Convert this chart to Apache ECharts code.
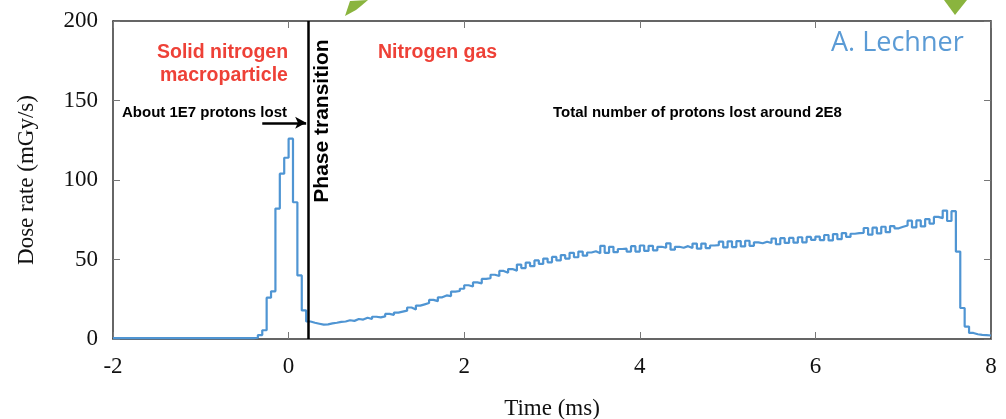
<!DOCTYPE html>
<html><head><meta charset="utf-8">
<script src="https://cdn.jsdelivr.net/npm/echarts@6/dist/echarts.min.js"></script>
<style>html,body{margin:0;padding:0;background:#fff}#c{width:1006px;height:419px}</style>
</head><body><div id="c"></div>
<script>
// ---- data ----
const xTickValues = [-2, 0, 2, 4, 6, 8];
const yTickValues = [0, 50, 100, 150, 200];
const binStartMs = -2;
const binWidthMs = 0.05;
// dose rate (mGy/s) per 0.05 ms bin, from -2.00 ms
const solidPhaseDose = [
  0.5,0.5,0.5,0.5,0.5,0.5,0.5,0.5,0.5,0.5, // -2.00 .. -1.55
  0.5,0.5,0.5,0.5,0.5,0.5,0.5,0.5,0.5,0.5, // -1.50 .. -1.05
  0.5,0.5,0.5,0.5,0.5,0.5,0.5,0.5,0.5,0.5, // -1.00 .. -0.55
  0.5,0.5,                                 // -0.50 .. -0.45
  0.8,2.5,5.5,26,30,82,104,114,126,86,40,18,11 // -0.40 .. 0.20
];
const gasPhaseDose = [
  10.2,9.6,9.0,9.2,9.8,10.2,10.8,11.0,11.8,11.4,   // 0.25 .. 0.70
  12.6,12.2,13.4,12.6,14.0,13.6,14.2,15.8,15.2,16.6, // 0.75 .. 1.20
  17.2,17.8,19.8,18.6,21.0,21.8,22.6,24.6,23.8,26.2, // 1.25 .. 1.70
  27.4,27.0,29.8,30.2,31.6,33.8,33.0,35.6,35.0,37.8, // 1.75 .. 2.20
  38.2,40.4,39.6,42.8,41.6,                          // 2.25 .. 2.45
  44.0,43.0,46.8,44.6,48.0,45.8,49.4,47.2,50.6,48.2, // 2.50 .. 2.95
  51.6,49.4,52.8,50.6,54.2,51.4,55.0,52.4,54.4,55.2, // 3.00 .. 3.45
  54.0,58.6,54.2,58.0,54.6,56.6,56.8,55.0,58.4,55.0, // 3.50 .. 3.95
  58.8,55.4,58.6,55.8,58.0,57.4,60.2,56.2,58.0,57.4, // 4.00 .. 4.45
  58.4,57.2,60.0,56.8,60.0,57.2,58.8,59.0,61.2,57.6, // 4.50 .. 4.95
  61.4,57.8,61.6,58.2,61.8,58.6,60.8,60.2,61.2,60.4, // 5.00 .. 5.45
  63.2,59.6,63.4,60.4,63.6,60.6,64.0,60.8,64.2,62.4, // 5.50 .. 5.95
  64.4,62.2,65.4,62.0,66.0,62.8,66.6,64.2,66.2,66.6, // 6.00 .. 6.45
  66.8,69.8,65.6,70.0,66.4,70.6,67.2,71.0,69.6,70.6, // 6.50 .. 6.95
  71.4,74.4,70.2,74.6,70.8,75.4,72.6,76.8,76.0,80.8, // 7.00 .. 7.45
  74.2,80.4,                                         // 7.50 .. 7.55
  55,19.5,7.8,3.8,3.0,2.6,2.4,2.2                    // 7.60 .. 7.95
];
const phaseTransitionMs = 0.22;

// ---- build ----
const doseRate = solidPhaseDose.concat(gasPhaseDose);
const stepData = doseRate.map((v, i) => [binStartMs + i * binWidthMs, v]);
stepData.push([binStartMs + doseRate.length * binWidthMs, doseRate[doseRate.length - 1]]);

const axisColor = '#333';
const serif = 'Liberation Serif';
const red = '#ee4137';

function frameAxis(extra) {
  return Object.assign({
    type: 'value',
    axisLine: {show: true, onZero: false, lineStyle: {color: axisColor, width: 1.5}},
    axisTick: {show: true, inside: true, length: 7, lineStyle: {color: '#777'}},
    splitLine: {show: false}
  }, extra);
}

const chart = echarts.init(document.getElementById('c'), null, {renderer: 'canvas'});
chart.setOption({
  animation: false,
  backgroundColor: '#fff',
  grid: {left: 113, right: 15, top: 21, bottom: 80, show: false, containLabel: false, outerBoundsMode: 'none'},
  xAxis: [
    frameAxis({
      position: 'bottom',
      min: xTickValues[0], max: xTickValues[xTickValues.length - 1], interval: 2,
      name: 'Time (ms)', nameLocation: 'middle', nameGap: 58,
      nameTextStyle: {fontFamily: serif, fontSize: 23, color: '#111'},
      axisLabel: {fontFamily: serif, fontSize: 23, color: '#111', margin: 16}
    }),
    frameAxis({
      position: 'top',
      min: xTickValues[0], max: xTickValues[xTickValues.length - 1], interval: 2,
      axisLabel: {show: false}
    })
  ],
  yAxis: [
    frameAxis({
      position: 'left',
      min: yTickValues[0], max: yTickValues[yTickValues.length - 1], interval: 50,
      name: 'Dose rate (mGy/s)', nameLocation: 'middle', nameGap: 75,
      nameTextStyle: {fontFamily: serif, fontSize: 23, color: '#111'},
      axisLabel: {fontFamily: serif, fontSize: 23, color: '#111', margin: 15}
    }),
    frameAxis({
      position: 'right',
      min: yTickValues[0], max: yTickValues[yTickValues.length - 1], interval: 50,
      axisLabel: {show: false}
    })
  ],
  series: [{
    type: 'line', step: 'end', data: stepData,
    xAxisIndex: 0, yAxisIndex: 0,
    symbol: 'none', silent: true,
    lineStyle: {color: '#4f95d3', width: 2.2},
    markLine: {
      silent: true, symbol: ['none', 'none'], label: {show: false},
      lineStyle: {color: '#000', width: 2.5, type: 'solid'},
      data: [{xAxis: phaseTransitionMs}]
    },
    z: 3
  }, {
    type: 'line', data: [], xAxisIndex: 0, yAxisIndex: 0,
    markLine: {
      silent: true, symbol: ['none', 'arrow'], symbolSize: [9, 11],
      label: {show: false},
      lineStyle: {color: '#000', width: 2.5, type: 'solid'},
      data: [[{coord: [-0.3, 136]}, {coord: [0.2, 136]}]]
    }
  }],
  graphic: [
    {type: 'text', left: 157, top: 43, style: {text: 'Solid nitrogen', font: 'bold 19.5px "Liberation Sans"', fill: red}},
    {type: 'text', left: 160, top: 66, style: {text: 'macroparticle', font: 'bold 19.5px "Liberation Sans"', fill: red}},
    {type: 'text', left: 378, top: 43, style: {text: 'Nitrogen gas', font: 'bold 19.5px "Liberation Sans"', fill: red}},
    {type: 'text', left: 122, top: 105, style: {text: 'About 1E7 protons lost', font: 'bold 15px "Liberation Sans"', fill: '#000'}},
    {type: 'text', left: 553, top: 105, style: {text: 'Total number of protons lost around 2E8', font: 'bold 15px "Liberation Sans"', fill: '#000'}},
    {type: 'text', x: 322, y: 121, rotation: Math.PI / 2,
      style: {text: 'Phase transition', font: 'bold 21px "Liberation Sans"', fill: '#000', align: 'center', verticalAlign: 'middle'}},
    {type: 'text', left: 831, top: 30, style: {text: 'A. Lechner', font: '27px "Open Sans"', fill: '#5b9bd5'}},
    {type: 'polygon', shape: {points: [[345, 16], [350, 1], [368, 0], [361, 6], [356, 10]]}, style: {fill: '#8ab43e'}},
    {type: 'polygon', shape: {points: [[944, 0], [967, 0], [955, 15]]}, style: {fill: '#8ab43e'}}
  ]
});
</script>
</body></html>
